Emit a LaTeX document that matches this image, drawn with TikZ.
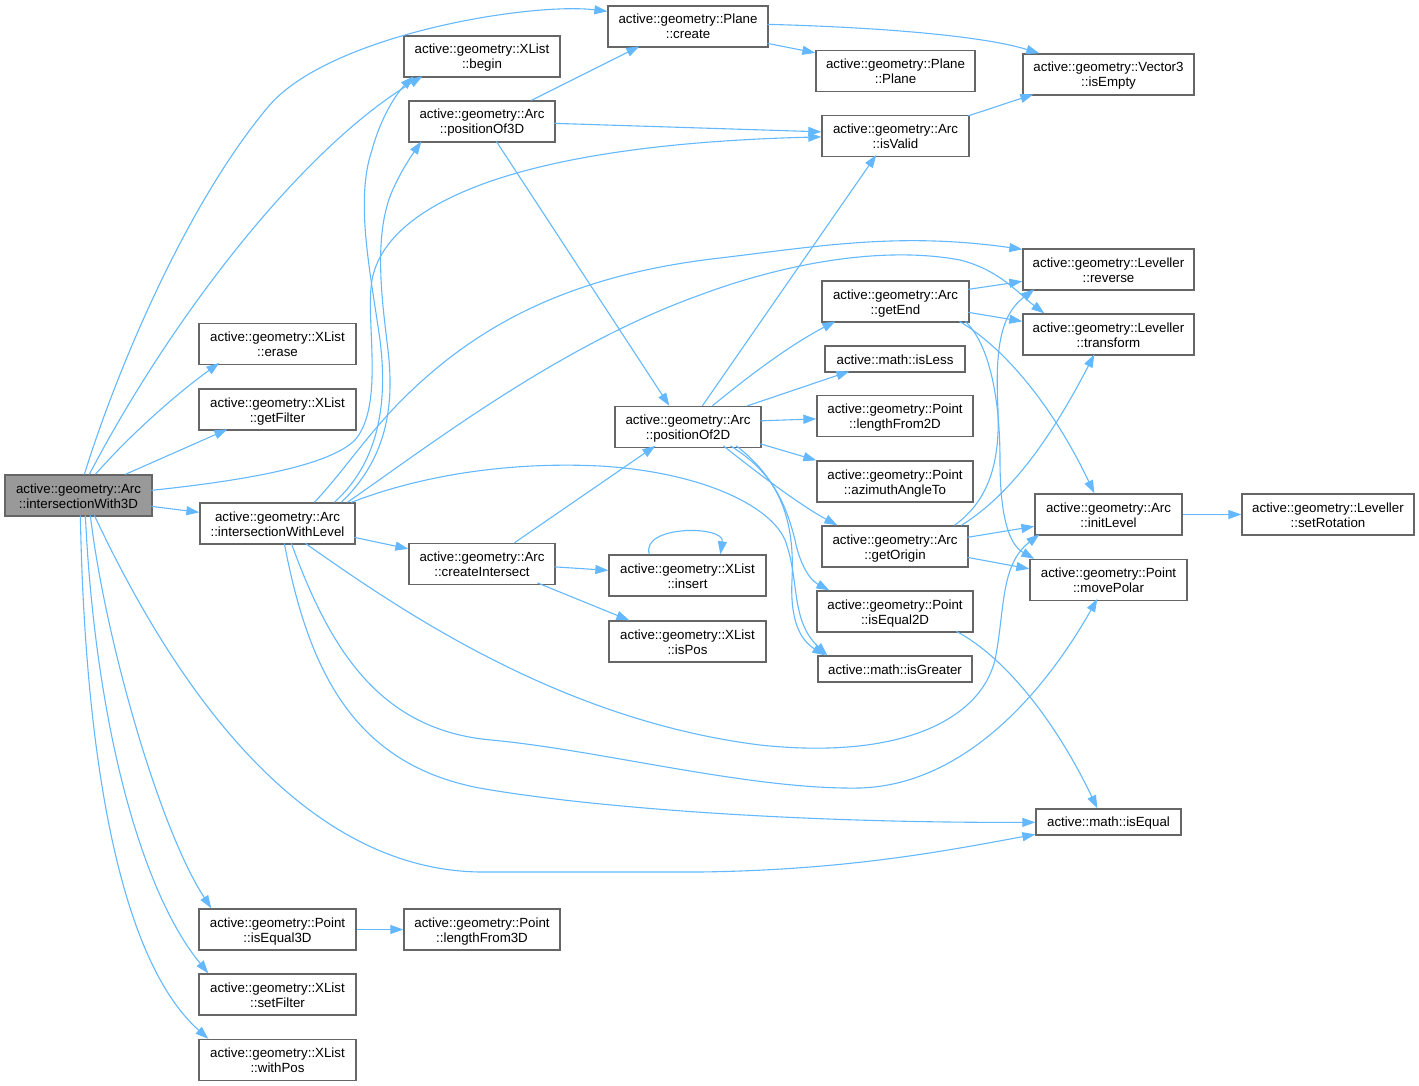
\documentclass[tikz,border=0pt]{standalone}
\usepackage{fontspec}
\setmainfont{Liberation Sans}
\usetikzlibrary{arrows.meta,calc}
\definecolor{edgeblue}{HTML}{63B8FF}
\definecolor{boxgray}{HTML}{666666}
\definecolor{rootfill}{HTML}{999999}
\newcommand{\dxfont}{\fontsize{13.3}{15}\selectfont}
\newcommand{\tl}[2]{\raisebox{-2pt}[\height][\depth]{\begin{tabular}{@{}c@{}}#1\\#2\end{tabular}}}
\newcommand{\ol}[1]{\raisebox{-1pt}[\height][\depth]{#1}}
\tikzset{
  box/.style={draw=boxgray, line width=1.3pt, fill=white, inner sep=0pt, align=center, font=\dxfont, text=black},
  rootbox/.style={box, fill=rootfill},
  two/.style={minimum height=41pt},
  one/.style={minimum height=26pt},
  edge/.style={draw=edgeblue, line width=1.1pt, -{Triangle[length=13pt,width=9pt]}},
}
\begin{document}
\begin{tikzpicture}[x=1pt,y=-1pt]
\useasboundingbox (0,0) rectangle (1419,1086);
% nodes
\node[rootbox,two,minimum width=147pt] (A) at (78.5,495.5) {\tl{active::geometry::Arc}{::intersectionWith3D}};
\node[box,two,minimum width=160pt] (create) at (688,26.5) {\tl{active::geometry::Plane}{::create}};
\node[box,two,minimum width=156pt] (begin) at (482,56.5) {\tl{active::geometry::XList}{::begin}};
\node[box,two,minimum width=146pt] (P3) at (482,121.5) {\tl{active::geometry::Arc}{::positionOf3D}};
\node[box,two,minimum width=159pt] (plane) at (895.5,71) {\tl{active::geometry::Plane}{::Plane}};
\node[box,two,minimum width=171pt] (isEmpty) at (1108.5,74.5) {\tl{active::geometry::Vector3}{::isEmpty}};
\node[box,two,minimum width=147pt] (isValid) at (895.5,136) {\tl{active::geometry::Arc}{::isValid}};
\node[box,two,minimum width=157pt] (erase) at (277.5,344) {\tl{active::geometry::XList}{::erase}};
\node[box,two,minimum width=157pt] (getFilter) at (277.5,409.5) {\tl{active::geometry::XList}{::getFilter}};
\node[box,two,minimum width=155pt] (L) at (277.5,523.5) {\tl{active::geometry::Arc}{::intersectionWithLevel}};
\node[box,two,minimum width=171pt] (reverse) at (1108.5,269.5) {\tl{active::geometry::Leveller}{::reverse}};
\node[box,two,minimum width=147pt] (getEnd) at (895.5,301.5) {\tl{active::geometry::Arc}{::getEnd}};
\node[box,two,minimum width=171pt] (transform) at (1108.5,334.5) {\tl{active::geometry::Leveller}{::transform}};
\node[box,one,minimum width=140pt] (isLess) at (895,359) {\ol{active::math::isLess}};
\node[box,two,minimum width=146pt] (P2) at (688,427) {\tl{active::geometry::Arc}{::positionOf2D}};
\node[box,two,minimum width=156pt] (len2) at (895,416) {\tl{active::geometry::Point}{::lengthFrom2D}};
\node[box,two,minimum width=156pt] (azimuth) at (895,481.5) {\tl{active::geometry::Point}{::azimuthAngleTo}};
\node[box,two,minimum width=146pt] (getOrigin) at (895,546.5) {\tl{active::geometry::Arc}{::getOrigin}};
\node[box,two,minimum width=147pt] (initLevel) at (1108.5,514.5) {\tl{active::geometry::Arc}{::initLevel}};
\node[box,two,minimum width=172pt] (setRotation) at (1328,514.5) {\tl{active::geometry::Leveller}{::setRotation}};
\node[box,two,minimum width=157pt] (movePolar) at (1108.5,580) {\tl{active::geometry::Point}{::movePolar}};
\node[box,two,minimum width=146pt] (CI) at (482,564) {\tl{active::geometry::Arc}{::createIntersect}};
\node[box,two,minimum width=157pt] (insert) at (687.5,575.5) {\tl{active::geometry::XList}{::insert}};
\node[box,two,minimum width=157pt] (isPos) at (687.5,641.5) {\tl{active::geometry::XList}{::isPos}};
\node[box,two,minimum width=156pt] (isEqual2D) at (895,611.5) {\tl{active::geometry::Point}{::isEqual2D}};
\node[box,one,minimum width=154pt] (isGreater) at (895,669) {\ol{active::math::isGreater}};
\node[box,one,minimum width=145pt] (isEqual) at (1108.5,822) {\ol{active::math::isEqual}};
\node[box,two,minimum width=157pt] (isEqual3D) at (277.5,929.5) {\tl{active::geometry::Point}{::isEqual3D}};
\node[box,two,minimum width=156pt] (len3) at (482,929.5) {\tl{active::geometry::Point}{::lengthFrom3D}};
\node[box,two,minimum width=157pt] (setFilter) at (277.5,994.5) {\tl{active::geometry::XList}{::setFilter}};
\node[box,two,minimum width=157pt] (withPos) at (277.5,1060) {\tl{active::geometry::XList}{::withPos}};
% edges from intersectionWith3D
\draw[edge] ($(A.north west)+(80,0)$) .. controls (120,360) and (190,200) .. (268,107) .. controls (328,35) and (530,2) .. ($(create.north west)+(0,6)$);
\draw[edge] ($(A.north west)+(85,0)$) .. controls (170,320) and (300,150) .. ($(begin.north west)+(19,41)$);
\draw[edge] ($(A.north west)+(91,0)$) .. controls (130,435) and (175,395) .. ($(erase.north west)+(21,40)$);
\draw[edge] ($(A.north west)+(121,0)$) -- ($(getFilter.north west)+(29,41)$);
\draw[edge] ($(A.north west)+(147,16)$) .. controls (250,480) and (330,465) .. (355,440) .. controls (385,405) and (365,320) .. (372,280) .. controls (385,210) and (500,145) .. ($(isValid.north west)+(0,22)$);
\draw[edge] ($(A.north west)+(147,32)$) -- ($(L.north west)+(0,10)$);
\draw[edge] ($(A.north west)+(86,41)$) .. controls (105,640) and (160,830) .. ($(isEqual3D.north west)+(13,0)$);
\draw[edge] ($(A.north west)+(81,41)$) .. controls (95,720) and (140,890) .. ($(setFilter.north west)+(10,0)$);
\draw[edge] ($(A.north west)+(76,41)$) .. controls (85,760) and (120,960) .. ($(withPos.north west)+(10,0)$);
\draw[edge] ($(A.north west)+(90,41)$) .. controls (200,740) and (330,870) .. (480,872) -- (700,872) .. controls (850,870) and (950,850) .. ($(isEqual.north west)+(0,26)$);
% edges from intersectionWithLevel
\draw[edge] ($(L.north west)+(155,35)$) -- ($(CI.north west)+(0,6)$);
\draw[edge] ($(L.north west)+(135,0)$) .. controls (370,470) and (390,420) .. (380,340) .. controls (370,270) and (355,200) .. (372,150) .. controls (380,120) and (395,95) .. ($(begin.north west)+(10,41)$);
\draw[edge] ($(L.north west)+(142,0)$) .. controls (385,460) and (395,410) .. (388,350) .. controls (382,300) and (372,230) .. (395,185) .. controls (403,168) and (412,155) .. ($(P3.north west)+(13,41)$);
\draw[edge] ($(L.north west)+(115,0)$) .. controls (345,470) and (370,430) .. (410,392) .. controls (480,325) and (570,275) .. (720,258) .. controls (820,246) and (900,232) .. ($(reverse.north west)+(0,1)$);
\draw[edge] ($(L.north west)+(148,0)$) .. controls (430,445) and (560,345) .. (700,295) .. controls (780,265) and (880,245) .. (960,260) .. controls (1000,270) and (1020,295) .. ($(transform.north west)+(22,0)$);
\draw[edge] ($(L.north west)+(152,0)$) .. controls (430,472) and (520,462) .. (600,466) .. controls (700,472) and (770,505) .. (785,540) .. controls (800,580) and (790,620) .. ($(isGreater.north west)+(10,0)$);
\draw[edge] ($(L.north west)+(106,41)$) .. controls (400,610) and (560,720) .. (760,745) .. controls (900,760) and (980,720) .. (995,660) .. controls (1005,610) and (1000,565) .. ($(initLevel.north west)+(5,41)$);
\draw[edge] ($(L.north west)+(92,41)$) .. controls (330,650) and (380,730) .. (491,740) .. controls (600,750) and (750,790) .. (860,788) .. controls (960,785) and (1040,700) .. ($(movePolar.north west)+(68,40)$);
\draw[edge] ($(L.north west)+(85,41)$) .. controls (310,680) and (360,770) .. (491,790) .. controls (600,808) and (800,823) .. ($(isEqual.north west)+(0,14)$);
% positionOf3D
\draw[edge] ($(P3.north west)+(123,0)$) -- ($(create.north west)+(32,41)$);
\draw[edge] ($(P3.north west)+(146,23)$) -- ($(isValid.north west)+(0,17)$);
\draw[edge] ($(P3.north west)+(88,41)$) -- ($(P2.north west)+(55,0)$);
% createIntersect
\draw[edge] ($(CI.north west)+(106,0)$) -- ($(P2.north west)+(41,40)$);
\draw[edge] ($(CI.north west)+(146,24)$) -- ($(insert.north west)+(0,16)$);
\draw[edge] ($(CI.north west)+(129,40)$) -- ($(isPos.north west)+(21,0)$);
\draw[edge] ($(insert.north west)+(41,0)$) .. controls (640,525) and (725,525) .. ($(insert.north west)+(112,0)$);
% Plane::create, isValid
\draw[edge] ($(create.north west)+(160,38)$) -- ($(plane.north west)+(0,3)$);
\draw[edge] ($(create.north west)+(160,19)$) .. controls (870,27) and (980,35) .. ($(isEmpty.north west)+(17,0)$);
\draw[edge] ($(isValid.north west)+(147,1)$) -- ($(isEmpty.north west)+(11,41)$);
% positionOf2D
\draw[edge] ($(P2.north west)+(88,0)$) -- ($(isValid.north west)+(55,40)$);
\draw[edge] ($(P2.north west)+(98,0)$) .. controls (750,375) and (790,345) .. ($(getEnd.north west)+(14,41)$);
\draw[edge] ($(P2.north west)+(133,0)$) -- ($(isLess.north west)+(25,26)$);
\draw[edge] ($(P2.north west)+(146,15)$) -- ($(len2.north west)+(0,24)$);
\draw[edge] ($(P2.north west)+(146,38)$) -- ($(azimuth.north west)+(0,0)$);
\draw[edge] ($(P2.north west)+(109,40)$) .. controls (760,475) and (800,505) .. ($(getOrigin.north west)+(16,0)$);
\draw[edge] ($(P2.north west)+(116,40)$) .. controls (770,470) and (785,500) .. (795,540) .. controls (800,565) and (810,580) .. ($(isEqual2D.north west)+(13,0)$);
\draw[edge] ($(P2.north west)+(122,40)$) .. controls (780,480) and (795,520) .. (792,580) .. controls (790,620) and (800,640) .. ($(isGreater.north west)+(8,0)$);
% getEnd
\draw[edge] ($(getEnd.north west)+(147,9)$) -- ($(reverse.north west)+(0,33)$);
\draw[edge] ($(getEnd.north west)+(147,32)$) -- ($(transform.north west)+(0,8)$);
\draw[edge] ($(getEnd.north west)+(138,41)$) .. controls (1000,345) and (1050,400) .. ($(initLevel.north west)+(60,0)$);
\draw[edge] ($(getEnd.north west)+(144,41)$) .. controls (990,345) and (1000,400) .. (1000,460) .. controls (1000,520) and (1010,545) .. ($(movePolar.north west)+(5,0)$);
% getOrigin
\draw[edge] ($(getOrigin.north west)+(133,0)$) .. controls (990,500) and (1000,460) .. (998,410) .. controls (995,350) and (1000,315) .. ($(reverse.north west)+(12,41)$);
\draw[edge] ($(getOrigin.north west)+(140,0)$) .. controls (1010,495) and (1050,440) .. ($(transform.north west)+(72,41)$);
\draw[edge] ($(getOrigin.north west)+(146,12)$) -- ($(initLevel.north west)+(0,33)$);
\draw[edge] ($(getOrigin.north west)+(146,32)$) -- ($(movePolar.north west)+(0,10)$);
% others
\draw[edge] (initLevel.east) -- (setRotation.west);
\draw[edge] ($(isEqual2D.north west)+(140,41)$) .. controls (1010,660) and (1060,730) .. ($(isEqual.north west)+(62,0)$);
\draw[edge] (isEqual3D.east) -- (len3.west);
\end{tikzpicture}
\end{document}
